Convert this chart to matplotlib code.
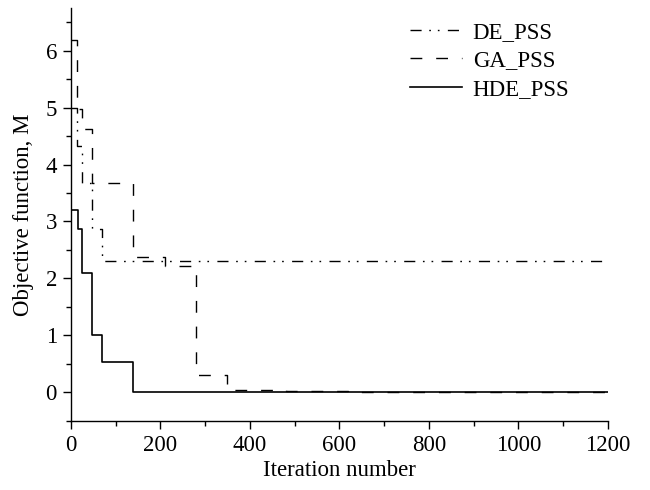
import numpy as np
import matplotlib
matplotlib.use("Agg")
import matplotlib.pyplot as plt
from matplotlib.ticker import MultipleLocator

plt.rcParams['font.family'] = ['Liberation Serif', 'DejaVu Serif']
plt.rcParams['font.size'] = 16.5

# step breakpoints (iteration where each new best value starts) and best values
de_iter = [0, 14, 24, 48, 69, 1200]
de_val = [5.0, 4.32, 3.67, 2.87, 2.31, 2.31]

ga_iter = [0, 14, 24, 48, 139, 210, 279, 349, 480, 620, 780, 1200]
ga_val = [6.19, 4.97, 4.62, 3.67, 2.37, 2.22, 0.30, 0.035, 0.025, 0.015, 0.005, 0.005]

hde_iter = [0, 15, 24, 48, 69, 139, 1200]
hde_val = [3.2, 2.87, 2.09, 1.0, 0.53, 0.0, 0.0]

fig = plt.figure(figsize=(6.5, 4.9), dpi=100)
ax = fig.add_axes([0.109, 0.141, 0.826, 0.843])

ax.step(de_iter, de_val, where='post', color='black', lw=1.0,
        dashes=(8, 5.5, 1.2, 5, 1.2, 6), label='DE_PSS')
ax.step(ga_iter, ga_val, where='post', color='black', lw=1.0,
        dashes=(8.5, 10), label='GA_PSS')
ax.step(hde_iter, hde_val, where='post', color='black', lw=1.2,
        label='HDE_PSS')

ax.set_xlim(0, 1200)
ax.set_ylim(-0.5, 6.75)
ax.xaxis.set_major_locator(MultipleLocator(200))
ax.xaxis.set_minor_locator(MultipleLocator(100))
ax.yaxis.set_major_locator(MultipleLocator(1))
ax.yaxis.set_minor_locator(MultipleLocator(0.5))
ax.tick_params(which='major', direction='out', length=6, width=1, pad=4)
ax.tick_params(which='minor', direction='out', length=3.5, width=1)

for side in ['top', 'right']:
    ax.spines[side].set_visible(False)
for side in ['left', 'bottom']:
    ax.spines[side].set_linewidth(1.0)

ax.set_xlabel('Iteration number', labelpad=3)
ax.set_ylabel('Objective function, M', labelpad=8)

leg = ax.legend(loc='upper left', frameon=False, handlelength=2.3,
                handletextpad=0.45, labelspacing=0.31, borderpad=0,
                borderaxespad=0, bbox_to_anchor=(0.631, 0.965))

fig.savefig('out.png', dpi=100)
